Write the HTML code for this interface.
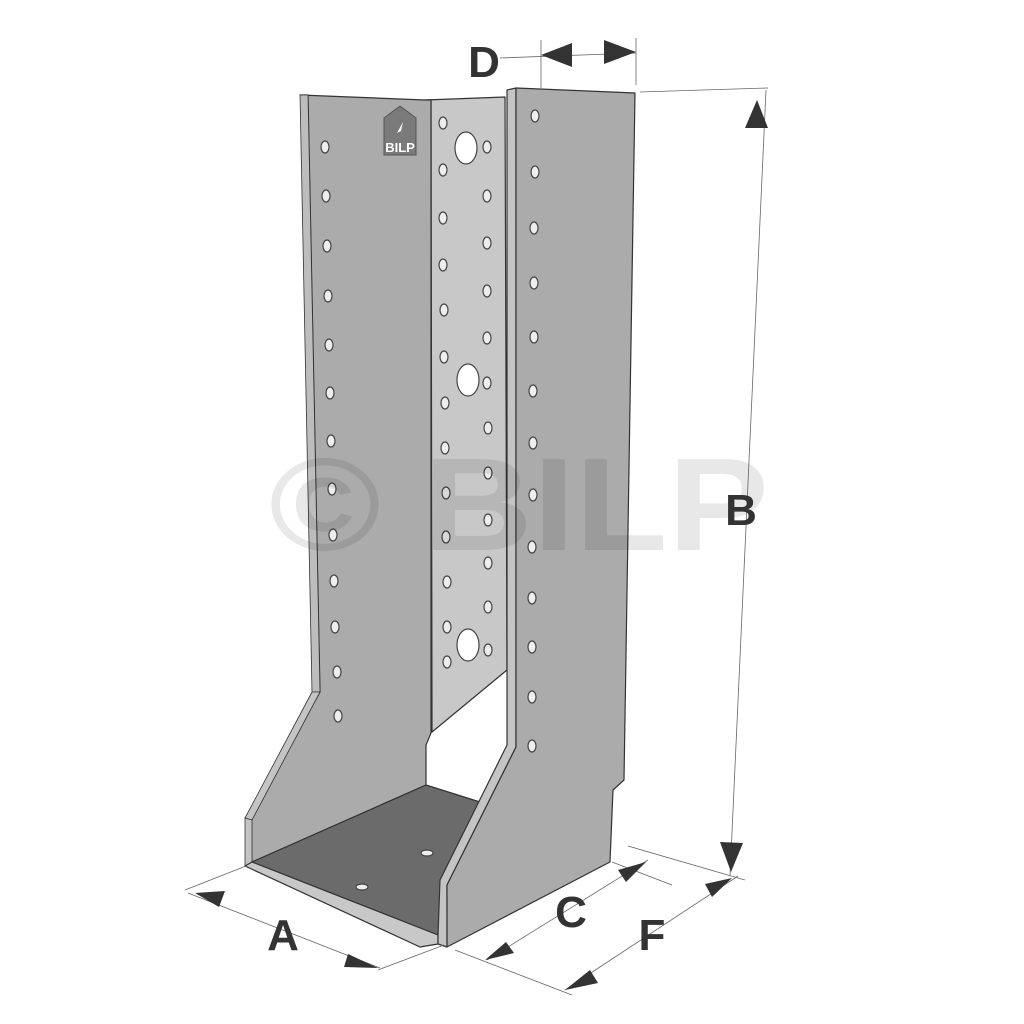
<!DOCTYPE html>
<html><head><meta charset="utf-8"><style>html,body{margin:0;padding:0;background:#fff}svg{display:block}</style></head>
<body>
<svg width="1024" height="1024" viewBox="0 0 1024 1024" xmlns="http://www.w3.org/2000/svg" font-family="Liberation Sans, sans-serif">
<rect width="1024" height="1024" fill="#fff"/>
<g stroke="#333" stroke-width="1.2" stroke-linejoin="round">
<polygon points="425,100 505,97 507,670 432,732 431,100" fill="#c8c8c8"/>
<polygon points="300,95 425,100 431,100 431,733 426,745 426,785 252,862 247,818 320,692 308,95" fill="#ababab"/>
<polygon points="300,95 308,95 320,692 312,692" fill="#bdbdbd" stroke-width="0.8"/>
<polygon points="312,692 320,692 252,820 245,818" fill="#c4c4c4" stroke-width="0.8"/>
<polygon points="245,818 252,820 252,862 245,866" fill="#c4c4c4" stroke-width="0.8"/>
<polygon points="426,785 480,802 438,935 252,862" fill="#6b6b6b"/>
<polygon points="245,866 252,862 438,935 438,944 420,947" fill="#c8c8c8"/>
<polygon points="507,90 516,88 516,747 447,885 447,947 438,944 438,935 440,880 507,745" fill="#c4c4c4"/>
<polygon points="516,88 635,93 624,780 613,790 610,862 447,947 447,885 516,747" fill="#ababab"/>
</g>
<g fill="#eee" stroke="#444" stroke-width="1.2">
<ellipse cx="325" cy="147" rx="4" ry="6"/><ellipse cx="326" cy="196" rx="4" ry="6"/><ellipse cx="327" cy="246" rx="4" ry="6"/><ellipse cx="328" cy="296" rx="4" ry="6"/><ellipse cx="329" cy="345" rx="4" ry="6"/><ellipse cx="330" cy="393" rx="4" ry="6"/><ellipse cx="331" cy="441" rx="4" ry="6"/><ellipse cx="332" cy="489" rx="4" ry="6"/><ellipse cx="333" cy="535" rx="4" ry="6"/><ellipse cx="334" cy="581" rx="4" ry="6"/><ellipse cx="335" cy="627" rx="4" ry="6"/><ellipse cx="337" cy="672" rx="4" ry="6"/><ellipse cx="338" cy="716" rx="4" ry="6"/>
<ellipse cx="443" cy="123" rx="4" ry="6"/><ellipse cx="443" cy="170" rx="4" ry="6"/><ellipse cx="443" cy="218" rx="4" ry="6"/><ellipse cx="443" cy="265" rx="4" ry="6"/><ellipse cx="444" cy="310" rx="4" ry="6"/><ellipse cx="444" cy="357" rx="4" ry="6"/><ellipse cx="445" cy="403" rx="4" ry="6"/><ellipse cx="445" cy="448" rx="4" ry="6"/><ellipse cx="446" cy="493" rx="4" ry="6"/><ellipse cx="446" cy="537" rx="4" ry="6"/><ellipse cx="447" cy="582" rx="4" ry="6"/><ellipse cx="447" cy="627" rx="4" ry="6"/><ellipse cx="447" cy="662" rx="4" ry="6"/>
<ellipse cx="487" cy="147" rx="4" ry="6"/><ellipse cx="487" cy="196" rx="4" ry="6"/><ellipse cx="487" cy="243" rx="4" ry="6"/><ellipse cx="487" cy="291" rx="4" ry="6"/><ellipse cx="487" cy="338" rx="4" ry="6"/><ellipse cx="487" cy="383" rx="4" ry="6"/><ellipse cx="488" cy="428" rx="4" ry="6"/><ellipse cx="488" cy="473" rx="4" ry="6"/><ellipse cx="488" cy="520" rx="4" ry="6"/><ellipse cx="488" cy="563" rx="4" ry="6"/><ellipse cx="488" cy="607" rx="4" ry="6"/><ellipse cx="488" cy="650" rx="4" ry="6"/>
<ellipse cx="535" cy="116" rx="4" ry="6"/><ellipse cx="535" cy="172" rx="4" ry="6"/><ellipse cx="534" cy="228" rx="4" ry="6"/><ellipse cx="534" cy="283" rx="4" ry="6"/><ellipse cx="534" cy="337" rx="4" ry="6"/><ellipse cx="533" cy="391" rx="4" ry="6"/><ellipse cx="533" cy="443" rx="4" ry="6"/><ellipse cx="533" cy="495" rx="4" ry="6"/><ellipse cx="532" cy="547" rx="4" ry="6"/><ellipse cx="532" cy="598" rx="4" ry="6"/><ellipse cx="532" cy="647" rx="4" ry="6"/><ellipse cx="532" cy="697" rx="4" ry="6"/><ellipse cx="532" cy="746" rx="4" ry="6"/>
<ellipse cx="466" cy="148" rx="11" ry="16" fill="#fff"/><ellipse cx="468" cy="380" rx="11" ry="16" fill="#fff"/><ellipse cx="468" cy="645" rx="11" ry="16" fill="#fff"/>
<ellipse cx="427" cy="853" rx="6" ry="3"/><ellipse cx="362" cy="887" rx="6" ry="3"/>
</g>
<path d="M384,118 L400,106 L416,118 L416,155 L384,155 Z" fill="#7a7a7a" stroke="#555"/>
<text x="400" y="152" font-size="13" font-weight="bold" fill="#fff" text-anchor="middle">BILP</text>
<path d="M397,133 L403,122 L401,131 Z" fill="#fff"/>
<text x="519" y="550" font-size="132" font-weight="bold" fill="#000" fill-opacity="0.09" text-anchor="middle" textLength="500" lengthAdjust="spacingAndGlyphs">© BILP</text>
<g stroke="#666" stroke-width="0.8" fill="none">
<line x1="500" y1="58" x2="636" y2="53"/><line x1="541" y1="40" x2="541" y2="88"/><line x1="636" y1="38" x2="636" y2="85"/>
<line x1="640" y1="92" x2="768" y2="88"/><line x1="766" y1="90" x2="730" y2="876"/><line x1="628" y1="846" x2="745" y2="880"/><line x1="612" y1="862" x2="672" y2="885"/>
<line x1="188" y1="893" x2="380" y2="968"/><line x1="185" y1="890" x2="246" y2="866"/><line x1="378" y1="970" x2="444" y2="945"/>
<line x1="487" y1="960" x2="648" y2="860"/><line x1="455" y1="950" x2="572" y2="995"/><line x1="565" y1="990" x2="738" y2="876"/>
</g>
<g fill="#333">
<polygon points="541,55 572,43 572,67"/><polygon points="636,52 604,40 604,64"/>
<polygon points="757,100 745,128 768,128"/><polygon points="731,872 720,842 743,843"/>
<polygon points="195,893 225,891 219,907"/><polygon points="378,968 348,954 344,967"/>
<polygon points="485,960 506,942 514,953"/><polygon points="646,862 618,870 626,882"/>
<polygon points="565,990 590,970 598,983"/><polygon points="732,878 705,884 712,897"/>
</g>
<g font-weight="bold" font-size="44" fill="#333" text-anchor="middle">
<text x="484" y="77">D</text><text x="741" y="525">B</text><text x="283" y="950">A</text><text x="571" y="927">C</text><text x="652" y="950">F</text>
</g>
</svg>
</body></html>
